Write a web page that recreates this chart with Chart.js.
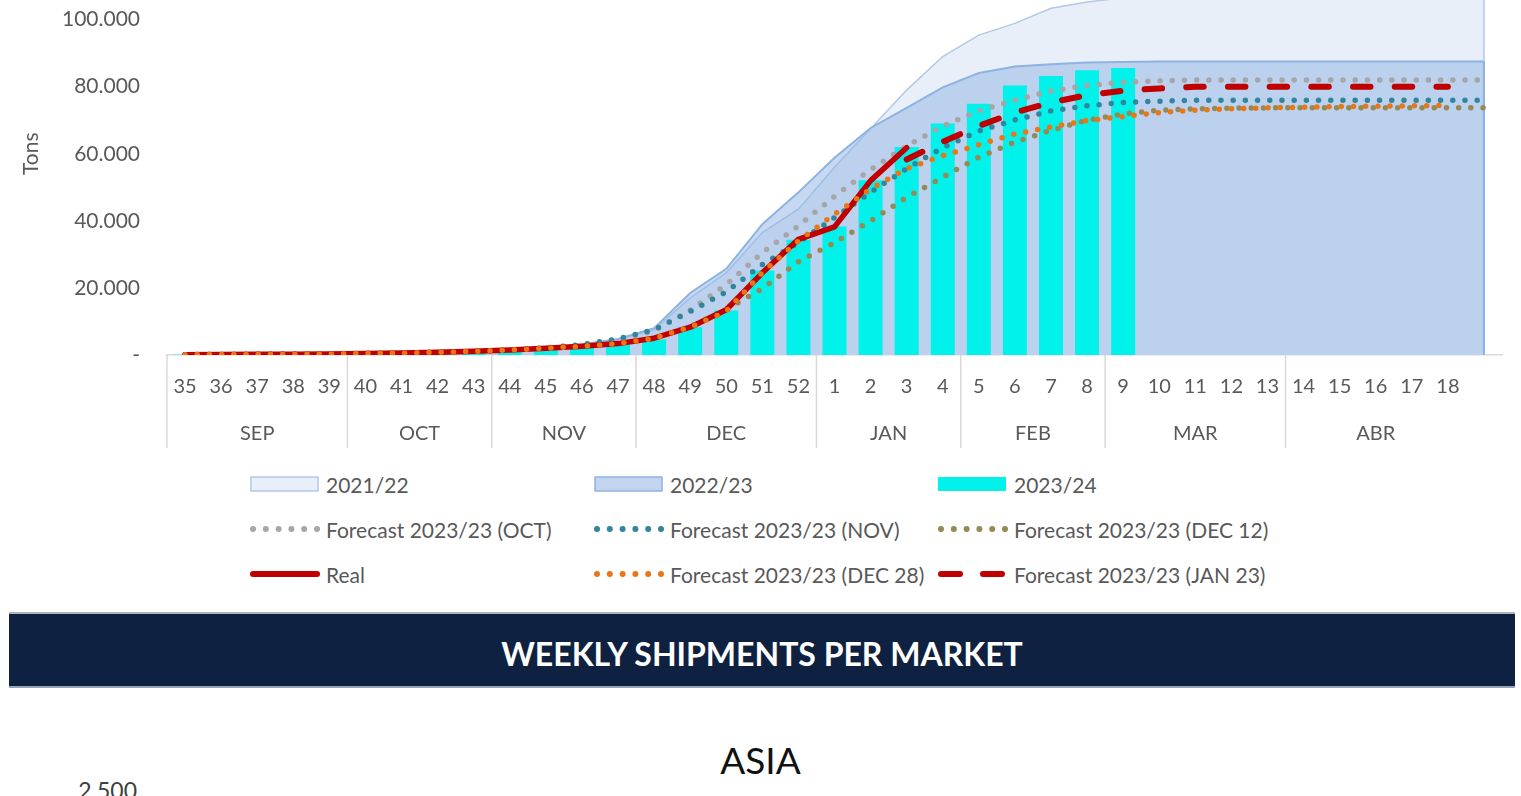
<!DOCTYPE html>
<html><head><meta charset="utf-8">
<script src="https://cdn.jsdelivr.net/npm/chart.js@4.4.1/dist/chart.umd.min.js"></script>
<style>
html,body{margin:0;padding:0;background:#fff;width:1521px;height:796px;overflow:hidden;font-family:Lato,sans-serif;}
#wrap{position:absolute;left:0;top:-87.4px;width:1521px;height:547.4px;}
#legend .item{position:absolute;display:flex;align-items:center;height:30px;color:#595959;font-size:21px;white-space:nowrap;}
#legend canvas{display:block;margin-right:4px;}
#banner{position:absolute;left:9px;top:612px;width:1506px;height:64px;padding-top:8px;background:#0F2141;border-top:2px solid #AEB4BE;border-bottom:2px solid #97A3B5;color:#fff;font-weight:700;font-size:32px;text-align:center;line-height:64px;}
#asia{position:absolute;left:0;width:1521px;top:738px;text-align:center;font-size:37px;color:#111;line-height:44px;}
#sub{position:absolute;right:1384px;top:777px;font-size:23px;color:#404040;line-height:26px;}
</style></head>
<body>
<div id="wrap"><canvas id="c" width="1521" height="547"></canvas></div>
<div id="legend"></div>
<div id="banner">WEEKLY SHIPMENTS PER MARKET</div>
<div id="asia">ASIA</div>
<div id="sub">2.500</div>
<script>
const weeks = ['35','36','37','38','39','40','41','42','43','44','45','46','47','48','49','50','51','52','1','2','3','4','5','6','7','8','9','10','11','12','13','14','15','16','17','18',''];
const monthNames = ['SEP','OCT','NOV','DEC','JAN','FEB','MAR','ABR'];
const monthSizes = [5,4,4,5,4,4,5,5];

const s2122 = [100,150,200,300,400,500,600,800,1000,1400,2000,3000,4600,7500,17000,24500,36500,43500,56000,67500,79000,89000,95400,98900,103400,105300,106500,107200,107600,107800,108000,108000,108000,108000,108000,108000,108000];
const s2223 = [100,150,200,300,400,500,600,800,1000,1400,2100,3100,4800,8000,18500,25700,39000,48500,58800,67700,73700,79800,84100,86000,86700,87200,87400,87500,87500,87500,87500,87500,87500,87500,87500,87500,87500];
const s2324 = [100,150,200,250,300,450,600,800,1100,1300,1800,2500,3300,4600,8300,13300,25200,34400,38300,52100,62000,69000,74900,80400,83200,84900,85600,null,null,null,null,null,null,null,null,null,null];
const real = [100,150,200,250,300,450,600,800,1100,1500,2000,2600,3400,5000,8300,13500,24500,34500,38200,52000,61800,null,null,null,null,null,null,null,null,null,null,null,null,null,null,null,null];
const fOct = [100,150,200,300,400,500,600,800,1100,1500,2100,3000,4600,7200,13400,21000,30500,38500,47300,55300,62300,68300,72800,76000,78700,80400,81300,81800,82000,82000,82000,82000,82000,82000,82000,82000,82000];
const fNov = [100,150,200,300,400,500,600,800,1100,1500,2100,3100,4800,7500,13000,18800,27000,33500,41000,48500,55600,61800,66800,70100,72800,74300,75300,75700,76000,76000,76000,76000,76000,76000,76000,76000,76000];
const fDec12 = [100,150,200,250,300,450,600,800,1100,1500,2000,2600,3400,5000,8300,13600,19800,27800,33500,40000,47000,53000,59000,63500,67000,70000,71900,73000,73400,73600,73700,73700,73700,73700,73700,73700,73700];
const fDec28 = [100,150,200,250,300,450,600,800,1100,1500,2000,2600,3400,5000,8300,13000,24600,34000,42000,49500,55600,59400,62700,65900,68000,69900,71100,72300,73000,73400,73700,73900,74100,74200,74300,74400,null];
const fJan23 = [null,null,null,null,null,null,null,null,null,null,null,null,null,null,null,null,null,null,null,null,58300,63600,68300,72300,75300,77500,78800,79500,80000,80000,80000,80000,80000,80000,80000,80000,null];

const dotted = (label, data, color, order) => ({type:'line', label, data, borderColor:color, backgroundColor:color, borderWidth:5.5, borderDash:[0,12.2], borderCapStyle:'round', borderJoinStyle:'round', pointRadius:0, fill:false, tension:0, order, kind:'dot'});

const datasets = [
  {type:'line', label:'2021/22', data:s2122, fill:'origin', backgroundColor:'#E8EFF8', borderColor:'#B2C8E7', borderWidth:1.5, pointRadius:0, tension:0, order:10, edge:true, kind:'area'},
  {type:'line', label:'2022/23', data:s2223, fill:'origin', backgroundColor:'rgba(142,180,227,0.5)', borderColor:'#8DB3E2', borderWidth:2, pointRadius:0, tension:0, order:9, edge:true, kind:'area', legendFill:'#C3D5EE'},
  {type:'bar', label:'2023/24', data:s2324, backgroundColor:'#00F2EA', borderWidth:0, barPercentage:0.665, categoryPercentage:1, order:8, kind:'bar'},
  dotted('Forecast 2023/23 (OCT)', fOct, '#A6A6A6', 7),
  dotted('Forecast 2023/23 (NOV)', fNov, '#31859C', 6),
  dotted('Forecast 2023/23 (DEC 12)', fDec12, '#948A54', 5),
  {type:'line', label:'Real', data:real, borderColor:'#C00000', borderWidth:5.5, borderCapStyle:'round', borderJoinStyle:'round', pointRadius:0, fill:false, tension:0, order:4, kind:'solid'},
  dotted('Forecast 2023/23 (DEC 28)', fDec28, '#EC7616', 3),
  {type:'line', label:'Forecast 2023/23 (JAN 23)', data:fJan23, borderColor:'#C00000', borderWidth:6, borderDash:[17.5,24.2], borderCapStyle:'round', pointRadius:0, fill:false, tension:0, order:2, kind:'dash'}
];

const fmt = v => v === 0 ? '-' : String(v).replace(/\B(?=(\d{3})+(?!\d))/g,'.');

const areaEdges = {
  id:'areaEdges',
  afterDatasetDraw(chart, args){
    const ds = chart.data.datasets[args.index];
    if(!ds.edge) return;
    const pts = args.meta.data; const last = pts[pts.length-1];
    const y0 = chart.scales.y.getPixelForValue(0);
    const ctx = chart.ctx; ctx.save();
    ctx.strokeStyle = ds.borderColor; ctx.lineWidth = ds.borderWidth;
    ctx.beginPath(); ctx.moveTo(last.x, last.y); ctx.lineTo(last.x, y0); ctx.stroke(); ctx.restore();
  }
};
const monthAxis = {
  id:'monthAxis',
  afterDraw(chart){
    const x = chart.scales.x, ctx = chart.ctx, bottom = chart.chartArea.bottom;
    const half = (x.getPixelForValue(1) - x.getPixelForValue(0))/2;
    ctx.save();
    ctx.strokeStyle = '#D9D9D9'; ctx.lineWidth = 1.5;
    ctx.fillStyle = '#595959'; ctx.font = '20px Lato'; ctx.textAlign = 'center'; ctx.textBaseline = 'middle';
    let start = 0;
    monthNames.forEach((m,i) => {
      const end = start + monthSizes[i] - 1;
      const sep = x.getPixelForValue(start) - half;
      ctx.beginPath(); ctx.moveTo(sep, bottom); ctx.lineTo(sep, bottom + 93); ctx.stroke();
      const cx = (x.getPixelForValue(start) + x.getPixelForValue(end))/2;
      ctx.fillText(m, cx, bottom + 79);
      start = end + 1;
    });
    ctx.restore();
  }
};

new Chart(document.getElementById('c'), {
  data:{labels:weeks, datasets},
  options:{
    responsive:false, animation:false, devicePixelRatio:1,
    layout:{padding:{top:23.2, right:19, left:0, bottom:0}},
    plugins:{legend:{display:false}, tooltip:{enabled:false}},
    scales:{
      x:{type:'category', offset:true,
        grid:{display:false, drawTicks:false},
        border:{display:true, color:'#D9D9D9', width:1.5},
        ticks:{color:'#595959', font:{family:'Lato', size:20}, padding:20, maxRotation:0, autoSkip:false},
        afterFit(s){ s.height = 105; }
      },
      y:{min:0, max:120000,
        grid:{display:false, drawTicks:false},
        border:{display:false},
        ticks:{stepSize:20000, color:'#595959', font:{family:'Lato', size:21}, padding:27, callback:v => fmt(v)},
        title:{display:true, text:'Tons', color:'#595959', font:{family:'Lato', size:21}, padding:{top:19, bottom:0}},
        afterFit(s){ s.width = 167; }
      }
    }
  },
  plugins:[areaEdges, monthAxis]
});

// HTML legend built from the datasets (3 columns, row-major)
const colX = [250, 594, 938], rowY = [484, 529, 574];
const leg = document.getElementById('legend');
datasets.forEach((ds, i) => {
  const item = document.createElement('div'); item.className = 'item';
  item.style.left = colX[i % 3] + 'px'; item.style.top = (rowY[Math.floor(i/3)] - 15) + 'px';
  const cv = document.createElement('canvas'); cv.width = 72; cv.height = 30; cv.style.width='72px'; cv.style.height='30px';
  const g = cv.getContext('2d');
  if (ds.kind === 'area') {
    g.fillStyle = ds.legendFill || ds.backgroundColor; g.fillRect(1, 8, 67, 14);
    g.strokeStyle = ds.borderColor; g.lineWidth = 1.5; g.strokeRect(1, 8, 67, 14);
  } else if (ds.kind === 'bar') {
    g.fillStyle = ds.backgroundColor; g.fillRect(0, 8, 68, 14);
  } else if (ds.kind === 'dot') {
    g.fillStyle = ds.borderColor;
    for (let k = 0; k < 6; k++) { g.beginPath(); g.arc(3 + k*12.8, 15, 3, 0, Math.PI*2); g.fill(); }
  } else if (ds.kind === 'solid') {
    g.strokeStyle = ds.borderColor; g.lineWidth = 6; g.lineCap = 'round';
    g.beginPath(); g.moveTo(3, 15); g.lineTo(67, 15); g.stroke();
  } else if (ds.kind === 'dash') {
    g.strokeStyle = ds.borderColor; g.lineWidth = 6; g.lineCap = 'round';
    g.beginPath(); g.moveTo(3, 15); g.lineTo(22, 15); g.moveTo(45, 15); g.lineTo(64, 15); g.stroke();
  }
  const t = document.createElement('span'); t.textContent = ds.label;
  item.appendChild(cv); item.appendChild(t); leg.appendChild(item);
});
</script>
</body></html>
